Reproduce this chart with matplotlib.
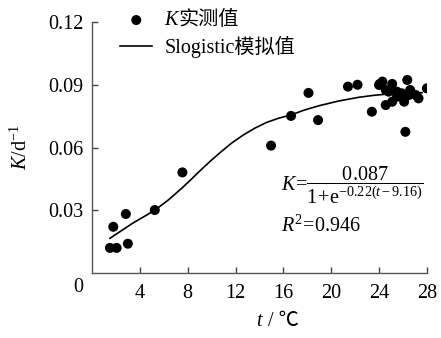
import matplotlib
matplotlib.use("Agg")
import matplotlib.pyplot as plt

plt.rcParams['font.family'] = ['Liberation Serif', 'Noto Sans CJK SC', 'DejaVu Sans']
plt.rcParams['mathtext.fontset'] = 'custom'
plt.rcParams['mathtext.rm'] = 'Liberation Serif'
plt.rcParams['mathtext.it'] = 'Liberation Serif:italic'
plt.rcParams['mathtext.bf'] = 'Liberation Serif:bold'

# measured K values
t_obs = [1.5, 2.06, 1.78, 2.83, 3.0, 5.25, 7.56, 14.97, 16.64, 18.1, 18.9,
         21.4, 22.2, 23.4, 24.0, 24.06, 24.28, 24.56, 24.56, 24.8, 25.1, 25.1,
         25.5, 25.5, 25.9, 26.1, 26.2, 26.36, 26.5, 26.6, 27.06, 27.3, 28.0]
K_obs = [0.012, 0.012, 0.0221, 0.0282, 0.014, 0.0301, 0.0481, 0.0609, 0.0751,
         0.0861, 0.0731, 0.0891, 0.0900, 0.0771, 0.0899, 0.0904, 0.0915, 0.0875,
         0.0803, 0.0867, 0.0904, 0.0819, 0.0843, 0.0867, 0.0859, 0.0819, 0.0675,
         0.0923, 0.0851, 0.0875, 0.0851, 0.0835, 0.0883]

# Slogistic fitted curve
t_fit = [1.5, 2.4, 3.4, 4.3, 5.25, 6.4, 7.5, 8.3, 9.0, 9.8, 10.6, 11.6, 12.6,
         13.6, 14.6, 15.6, 16.6, 17.8, 19.0, 20.6, 22.3, 23.5, 24.6, 26.0, 27.6]
K_fit = [0.0166, 0.0200, 0.0238, 0.0268, 0.0300, 0.0350, 0.0405, 0.0448, 0.0487,
         0.0530, 0.0570, 0.0618, 0.0658, 0.0692, 0.0720, 0.0740, 0.0755, 0.0780,
         0.0800, 0.0822, 0.0840, 0.0849, 0.0855, 0.0859, 0.0862]

xticks = [4, 8, 12, 16, 20, 24, 28]
yticks = [0.03, 0.06, 0.09, 0.12]
ytick_labels = ['0.03', '0.06', '0.09', '0.12']

FS = 14.5

fig = plt.figure(figsize=(4.41, 3.38), dpi=100)
ax = fig.add_axes([0.2086, 0.1923, 0.968 - 0.2086, 0.9349 - 0.1923])

ax.scatter(t_obs, K_obs, s=52, color='black', zorder=3, label='实测值',
           edgecolors='none')
ax.plot(t_fit, K_fit, color='black', lw=1.2, label='Slogistic模拟值')

ax.set_xlim(0, 28)
ax.set_ylim(0, 0.12)
ax.set_xticks(xticks)
ax.set_xticklabels([str(v) for v in xticks])
ax.set_yticks(yticks)
ax.set_yticklabels(ytick_labels)
ax.tick_params(direction='in', length=4, width=1, labelsize=FS, color='#444444')
ax.tick_params(axis='x', pad=8)
ax.tick_params(axis='y', pad=6)
for s in ['top', 'right']:
    ax.spines[s].set_visible(False)
for s in ['left', 'bottom']:
    ax.spines[s].set_color('#555555')
    ax.spines[s].set_linewidth(1.0)

fig.text(78 / 441, 1 - 287 / 338, '0', fontsize=FS, ha='center', va='center')

# x label: italic t + " / ℃"
fig.text(262 / 441, 1 - 322 / 338, 't', fontsize=FS, style='italic',
         ha='right', va='center')
fig.text(263 / 441, 1 - 322 / 338, ' / ℃', fontsize=FS, ha='left', va='center')
ax.set_ylabel(r'$K$/d$^{-1}$', fontsize=FS, labelpad=12)

leg = ax.legend(loc='upper left', bbox_to_anchor=(0.06, 1.075), frameon=False,
                fontsize=FS, handlelength=1.6, handletextpad=0.6,
                labelspacing=0.3, borderaxespad=0)
fig.canvas.draw()
# shift first label right and insert italic K before it
texts = leg.get_texts()
bb0 = texts[0].get_window_extent()
bb1 = texts[1].get_window_extent()
inv = fig.transFigure.inverted()
kx, ky = inv.transform((bb1.x0, (bb0.y0 + bb0.y1) / 2))
ktxt = fig.text(kx, ky, 'K', fontsize=FS, style='italic', ha='left', va='center')
fig.canvas.draw()
kbb = ktxt.get_window_extent()
texts[0].set_visible(False)
tx, _ = inv.transform((kbb.x1 + 1, 0))
fig.text(tx, ky, '实测值', fontsize=FS, ha='left', va='center')

ax.text(0.565, 0.35, r'$K\!=\!\dfrac{0.087}{1\!+\!\mathrm{e}^{-0.22(t-9.16)}}$',
        transform=ax.transAxes, fontsize=FS, ha='left', va='center')
ax.text(0.565, 0.185, r'$R^2\!=\!0.946$', transform=ax.transAxes, fontsize=FS,
        ha='left', va='center')

fig.savefig('out.png', dpi=100)
